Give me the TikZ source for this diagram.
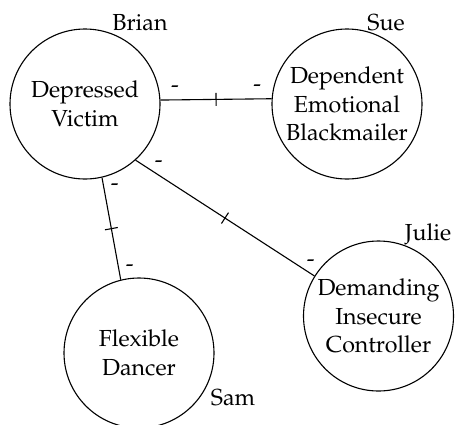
\documentclass[tikz,border=0pt]{standalone}
\usepackage[T1]{fontenc}
\usepackage{mathpazo}
\usepackage{tikz}
\usetikzlibrary{positioning}

\begin{document}
\begin{tikzpicture}[
          x=0.5pt, y=-0.5pt,
          line width=0.55pt,
          every node/.style={font=\fontsize{11.6}{14.2}\selectfont},
          person/.style={circle, draw, minimum size=75pt, inner sep=0pt, align=center},
          tag/.style={anchor=base},
          crossmark/.style={draw, rectangle, sloped, minimum width=0pt, minimum height=6.5pt, inner sep=0pt}
      ]
        \useasboundingbox (0,0) rectangle (455,424);
        % the four people
        \node[person] (brian) at (85,104)    {Depressed\\Victim};
        \node[person] (sue)   at (347,104)   {Dependent\\Emotional\\Blackmailer};
        \node[person] (sam)   at (139,353)   {Flexible\\Dancer};
        \node[person] (julie) at (378.5,316) {Demanding\\Insecure\\Controller};
        % names
        \node[tag] (brianname) at (140,30)    {Brian};
        \node[tag] (suename)   at (386,30)    {Sue};
        \node[tag] (juliename) at (428,240)   {Julie};
        \node[tag] (samname)   at (233,405.7) {Sam};
        % relations with signs
        \draw (brian.3.8) -- (sue.176.2)
              node[pos=0.13, above] (bs1) {-}
              node[midway, crossmark] (bsx) {}
              node[pos=0.87, above] (bs2) {-};
        \draw (brian.-48.7) -- (julie.148.5)
              node[pos=0.13, above] (bj1) {-}
              node[midway, crossmark] (bjx) {}
              node[pos=0.98, above] (bj2) {-};
        \draw (brian.-77.4) -- (sam.104.7)
              node[pos=0.09, right] (bm1) {-}
              node[midway, crossmark] (bmx) {}
              node[pos=0.89, right] (bm2) {-};
      \end{tikzpicture}
\end{document}
